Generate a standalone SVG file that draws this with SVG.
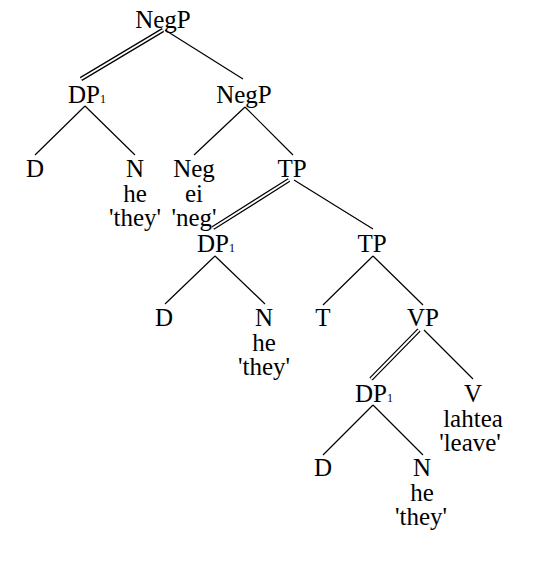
<svg xmlns="http://www.w3.org/2000/svg" xmlns:xlink="http://www.w3.org/1999/xlink" width="558" height="570" viewBox="0 0 558 570">
<style>
text{font-family:"Liberation Serif","Times New Roman",serif;font-size:25px;fill:#000;text-anchor:middle}
text.s{text-anchor:start}
tspan.sub{font-size:12px}
.e{stroke:#000;stroke-width:1.2;fill:none}
.d1{stroke:#000;stroke-width:4.4;fill:none}
.d2{stroke:#fff;stroke-width:2;fill:none}
</style>
<rect width="558" height="570" fill="#fff"/>
<g id="connectors">
<path class="d1" d="M163,30 L81,79 M289,180 L213,228 M419,330 L371,379"/>
<path class="d2" d="M163,30 L81,79 M289,180 L213,228 M419,330 L371,379"/>
<path class="e" d="M165,30 L243,79 M85,106 L35,155 M85,106 L135,155 M245,107 L194,155 M245,107 L293,155 M294,180 L373,229 M215,256 L165,304 M215,256 L265,304 M373,256 L323,305 M373,256 L423,305 M424,330 L473,379 M373,405 L323,455 M373,405 L423,455"/>
</g>
<g id="n-negp-top"><text x="163" y="28">NegP</text></g>
<g id="n-dp1-a"><text class="s" x="68" y="103">DP<tspan class="sub">1</tspan></text></g>
<g id="n-negp-2"><text x="244" y="103">NegP</text></g>
<g id="n-d-a"><text x="35" y="177">D</text></g>
<g id="n-n-a"><text x="135" y="177">N</text><text x="135" y="201.5">he</text><text x="135" y="226">'they'</text></g>
<g id="n-neg"><text x="194" y="177">Neg</text><text x="194" y="201.5">ei</text><text x="194" y="226">'neg'</text></g>
<g id="n-tp-1"><text x="292" y="177">TP</text></g>
<g id="n-dp1-b"><text class="s" x="197" y="252">DP<tspan class="sub">1</tspan></text></g>
<g id="n-tp-2"><text x="372" y="252">TP</text></g>
<g id="n-d-b"><text x="164" y="326">D</text></g>
<g id="n-n-b"><text x="264" y="326">N</text><text x="264" y="350.5">he</text><text x="264" y="375">'they'</text></g>
<g id="n-t"><text x="323" y="326">T</text></g>
<g id="n-vp"><text x="423" y="326">VP</text></g>
<g id="n-dp1-c"><text class="s" x="355" y="402">DP<tspan class="sub">1</tspan></text></g>
<g id="n-v"><text x="473" y="402">V</text><text x="473" y="426.5">lahtea</text><text x="470" y="451">'leave'</text></g>
<g id="n-d-c"><text x="323" y="476">D</text></g>
<g id="n-n-c"><text x="422" y="476">N</text><text x="422" y="500.5">he</text><text x="421" y="525">'they'</text></g>
</svg>
